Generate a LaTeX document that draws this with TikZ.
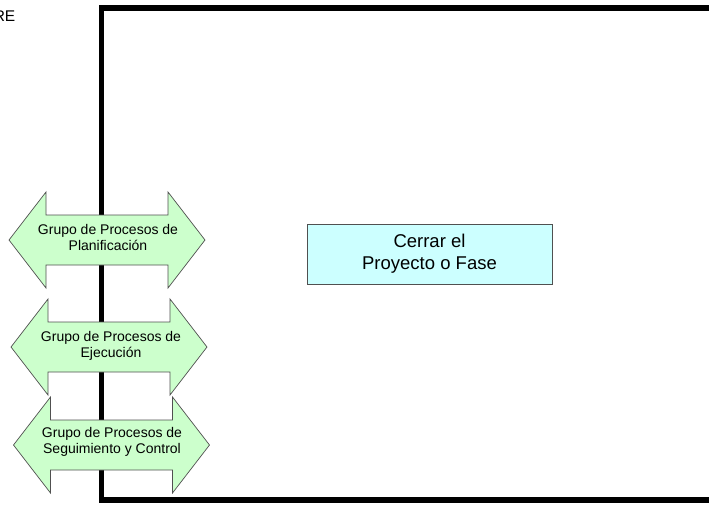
\documentclass[tikz,border=0pt]{standalone}
\usepackage{fontspec}
\setmainfont{Liberation Sans}
\definecolor{arrgreen}{HTML}{CCFFCC}
\definecolor{boxcyan}{HTML}{CCFFFF}
\definecolor{edgegray}{HTML}{505050}
\begin{document}
\begin{tikzpicture}[x=1pt,y=-1pt,
  frameline/.style={line width=5.5pt,black},
  arrowshape/.style={fill=arrgreen,draw=edgegray,line width=0.7pt,line join=miter},
  arrowtext/.style={font=\fontsize{14}{16}\selectfont,align=center,inner sep=0pt},
  closebox/.style={fill=boxcyan,draw=edgegray,line width=1pt,minimum width=245pt,minimum height=60pt,align=center,font=\fontsize{18.5}{22}\selectfont},
  dblarr/.pic={\path[arrowshape] (-98,0) -- (-61,-48) -- (-61,-25) -- (61,-25) -- (61,-48) -- (98,0) -- (61,48) -- (61,25) -- (-61,25) -- (-61,48) -- cycle;}]
\useasboundingbox (0,0) rectangle (709,504);
\begin{scope}
\clip (0,0) rectangle (709,504);
\draw[frameline,line join=miter] (709,8) -- (101.5,8) -- (101.5,500) -- (712,500);
\node[anchor=base east,inner sep=0pt,font=\fontsize{15.5}{18}\selectfont] (title) at (15.5,21) {RE};
\end{scope}
\pic at (107,240) {dblarr};
\node[arrowtext] (plan) at (108,237) {Grupo de Procesos de\\Planificación};
\pic at (109,347) {dblarr};
\node[arrowtext] (ejec) at (111,346) {Grupo de Procesos de\\Ejecución};
\pic at (111.5,445) {dblarr};
\node[arrowtext] (segu) at (112,442) {Grupo de Procesos de\\Seguimiento y Control};
\node[closebox] (cerrar) at (429.5,254) {Cerrar el\\Proyecto o Fase};
\end{tikzpicture}
\end{document}
